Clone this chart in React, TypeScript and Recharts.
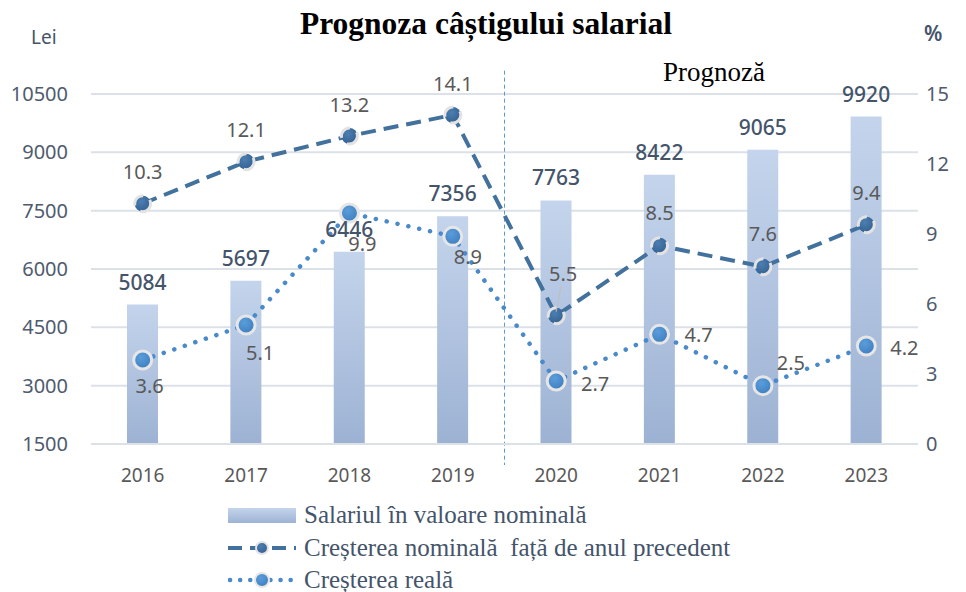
import React from "react";
import {
  Bar,
  CartesianGrid,
  ComposedChart,
  LabelList,
  Line,
  ReferenceLine,
  XAxis,
  YAxis,
} from "recharts";

const years = ["2016", "2017", "2018", "2019", "2020", "2021", "2022", "2023"];
const salary = [5084, 5697, 6446, 7356, 7763, 8422, 9065, 9920];
const nominalGrowth = [10.3, 12.1, 13.2, 14.1, 5.5, 8.5, 7.6, 9.4];
const realGrowth = [3.6, 5.1, 9.9, 8.9, 2.7, 4.7, 2.5, 4.2];
const leiTicks = [1500, 3000, 4500, 6000, 7500, 9000, 10500];
const pctTicks = [0, 3, 6, 9, 12, 15];

const data = years.map((year, i) => ({
  year,
  salary: salary[i],
  nominal: nominalGrowth[i],
  real: realGrowth[i],
}));

// label nudges (px) relative to each point
const nominalShift = [
  [0, -32],
  [0, -32],
  [0, -32],
  [0, -32],
  [7, -42],
  [0, -33],
  [0, -33],
  [0, -32],
];
const realShift = [
  [7, 25],
  [14, 27],
  [13, 30],
  [15, 20],
  [39, 2],
  [39, 0],
  [28, -23],
  [38, 1],
];

const TEXT = "#44546A";
const SANS = "'Noto Sans', sans-serif";
const SERIF = "'Liberation Serif', serif";

const makeLabel =
  (shift: number[][], leader: number | null) =>
  (props: any) => {
    const { x, y, value, index } = props;
    const [dx, dy] = shift[index];
    return (
      <g>
        {leader === index && (
          <line
            x1={x}
            y1={y - 4}
            x2={x + dx - 2}
            y2={y + dy + 12}
            stroke="#BFBFBF"
            strokeWidth={1}
          />
        )}
        <text
          x={x + dx}
          y={y + dy}
          textAnchor="middle"
          dominantBaseline="central"
          fontSize={20}
          fontFamily={SANS}
          fill="#595959"
        >
          {value}
        </text>
      </g>
    );
  };

export default function App() {
  return (
    <div
      style={{
        position: "absolute",
        left: 0,
        top: 0,
        width: 966,
        height: 592,
        background: "#fff",
        overflow: "hidden",
      }}
    >
      <svg width={0} height={0} style={{ position: "absolute" }}>
        <defs>
          <linearGradient id="barFill" x1="0" y1="0" x2="0" y2="1">
            <stop offset="0%" stopColor="#C4D4EC" />
            <stop offset="100%" stopColor="#9DB2D3" />
          </linearGradient>
          <radialGradient id="darkDot" cx="0.4" cy="0.35" r="0.7">
            <stop offset="0%" stopColor="#4C7FB3" />
            <stop offset="100%" stopColor="#335F8E" />
          </radialGradient>
          <radialGradient id="lightDot" cx="0.4" cy="0.35" r="0.7">
            <stop offset="0%" stopColor="#5B9DDB" />
            <stop offset="100%" stopColor="#3D7DBE" />
          </radialGradient>
        </defs>
      </svg>

      <div
        style={{
          position: "absolute",
          left: 0,
          width: 972,
          top: 6,
          textAlign: "center",
          fontFamily: SERIF,
          fontWeight: 700,
          fontSize: 31.5,
          color: "#000",
        }}
      >
        Prognoza câștigului salarial
      </div>
      <div
        style={{
          position: "absolute",
          left: 31,
          top: 24,
          fontFamily: SANS,
          fontSize: 19,
          color: TEXT,
        }}
      >
        Lei
      </div>
      <div
        style={{
          position: "absolute",
          left: 924,
          top: 19,
          fontFamily: SANS,
          fontSize: 21,
          fontWeight: 600,
          color: TEXT,
        }}
      >
        %
      </div>
      <div
        style={{
          position: "absolute",
          left: 663,
          top: 57,
          fontFamily: SERIF,
          fontSize: 27,
          color: "#000",
        }}
      >
        Prognoză
      </div>

      <ComposedChart
        width={966}
        height={592}
        data={data}
        margin={{ top: 94, right: 0, bottom: 118, left: 0 }}
        style={{ position: "absolute", left: 0, top: 0 }}
      >
        <CartesianGrid
          vertical={false}
          stroke="#DCE1E8"
          strokeWidth={2}
          yAxisId="lei"
        />
        <XAxis
          dataKey="year"
          tickLine={false}
          axisLine={{ stroke: "#DCE1E8", strokeWidth: 2 }}
          tickSize={0}
          tickMargin={25}
          height={30}
          tick={{ fontSize: 19, fontFamily: SANS, fill: "#595959" }}
        />
        <YAxis
          yAxisId="lei"
          domain={[1500, 10500]}
          ticks={leiTicks}
          allowDataOverflow
          width={91}
          axisLine={false}
          tickLine={false}
          tickSize={0}
          tickMargin={23}
          tick={{ fontSize: 20, fontFamily: SANS, fill: "#4F5B6E" }}
        />
        <YAxis
          yAxisId="pct"
          orientation="right"
          domain={[0, 15]}
          ticks={pctTicks}
          width={48}
          axisLine={false}
          tickLine={false}
          tickSize={0}
          tickMargin={8}
          tick={{ fontSize: 20, fontFamily: SANS, fill: "#4F5B6E" }}
        />
        <ReferenceLine
          yAxisId="pct"
          position="end"
          ifOverflow="visible"
          segment={[
            { x: "2019", y: 16 },
            { x: "2019", y: -0.9 },
          ]}
          stroke="#5B9BD5"
          strokeWidth={1}
          strokeDasharray="4 3"
        />
        <Bar
          yAxisId="lei"
          dataKey="salary"
          barSize={31}
          fill="url(#barFill)"
          isAnimationActive={false}
        >
          <LabelList
            dataKey="salary"
            position="top"
            offset={15}
            fontSize={21}
            fontFamily={SANS}
            fontWeight={500}
            fill={TEXT}
          />
        </Bar>
        <Line
          yAxisId="pct"
          dataKey="nominal"
          stroke="#41719C"
          strokeWidth={4}
          strokeDasharray="15 8"
          dot={{ r: 8, fill: "url(#darkDot)", stroke: "#E3E3E3", strokeWidth: 3 }}
          isAnimationActive={false}
        >
          <LabelList dataKey="nominal" content={makeLabel(nominalShift, 4)} />
        </Line>
        <Line
          yAxisId="pct"
          dataKey="real"
          stroke="#4A8ACB"
          strokeWidth={4.5}
          strokeLinecap="round"
          strokeDasharray="0.1 11"
          dot={{
            r: 9,
            fill: "url(#lightDot)",
            stroke: "#E6E6E6",
            strokeWidth: 3,
            strokeDasharray: "none",
          }}
          isAnimationActive={false}
        >
          <LabelList dataKey="real" content={makeLabel(realShift, null)} />
        </Line>
      </ComposedChart>

      <div
        style={{
          position: "absolute",
          left: 228,
          top: 499,
          fontFamily: SERIF,
          fontSize: 25,
          color: TEXT,
          lineHeight: "32.5px",
        }}
      >
        <div style={{ display: "flex", alignItems: "center" }}>
          <svg width={70} height={20} style={{ marginRight: 6 }}>
            <rect x={0} y={3} width={68} height={15} fill="url(#barFill)" />
          </svg>
          Salariul în valoare nominală
        </div>
        <div style={{ display: "flex", alignItems: "center" }}>
          <svg width={70} height={20} style={{ marginRight: 6 }}>
            <line
              x1={0}
              y1={10}
              x2={68}
              y2={10}
              stroke="#41719C"
              strokeWidth={4}
              strokeDasharray="14 8"
            />
            <circle cx={34} cy={10} r={6} fill="url(#darkDot)" stroke="#E3E3E3" strokeWidth={2} />
          </svg>
          Creșterea nominală&nbsp; față de anul precedent
        </div>
        <div style={{ display: "flex", alignItems: "center" }}>
          <svg width={70} height={20} style={{ marginRight: 6 }}>
            <line
              x1={2}
              y1={10}
              x2={68}
              y2={10}
              stroke="#4A8ACB"
              strokeWidth={4.5}
              strokeLinecap="round"
              strokeDasharray="0.1 10"
            />
            <circle cx={34} cy={10} r={7} fill="url(#lightDot)" stroke="#E6E6E6" strokeWidth={2} />
          </svg>
          Creșterea reală
        </div>
      </div>
    </div>
  );
}
